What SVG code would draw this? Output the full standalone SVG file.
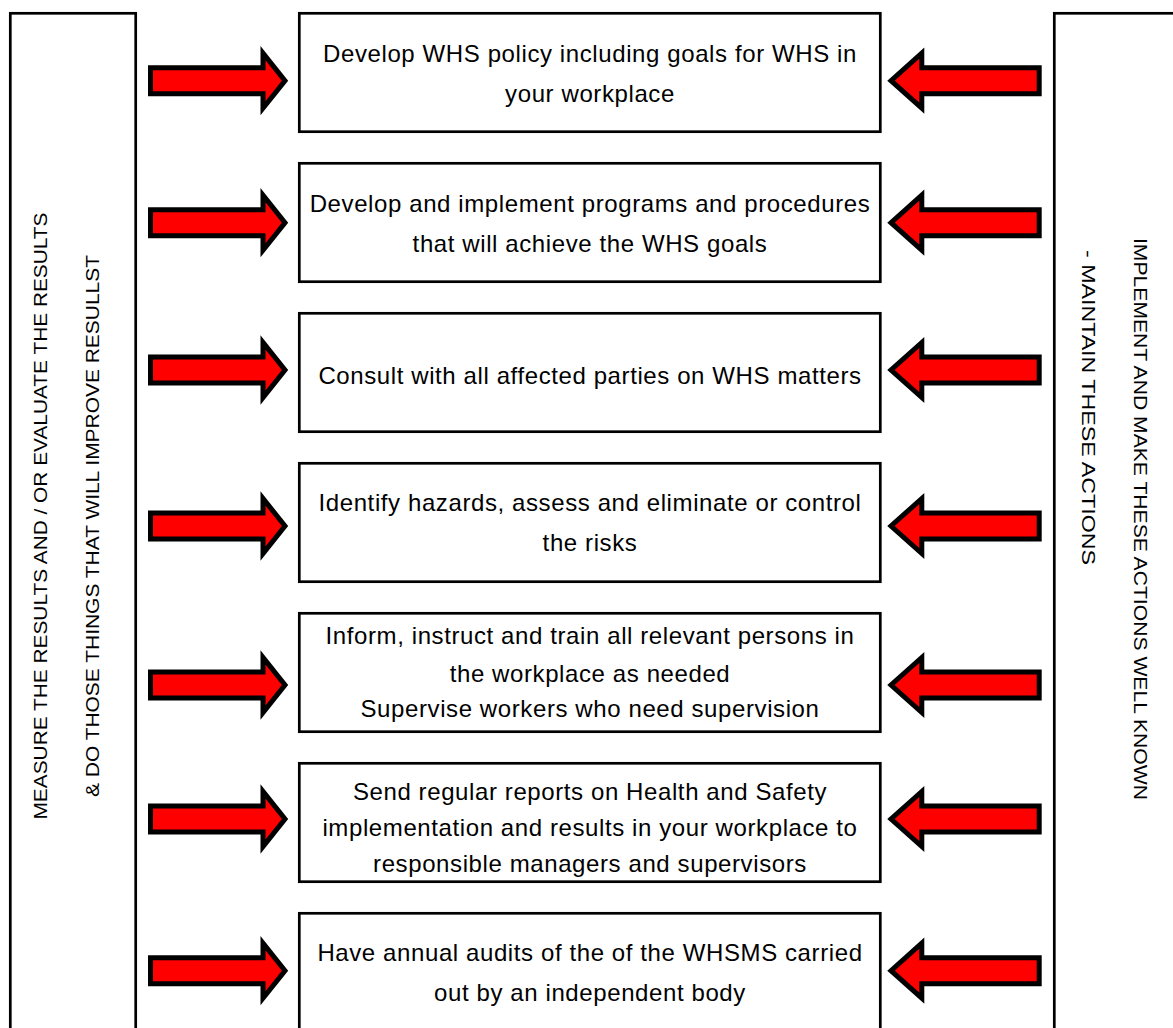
<svg xmlns="http://www.w3.org/2000/svg" width="1173" height="1028" viewBox="0 0 1173 1028">
<style>
.box{fill:#fff;stroke:#000;stroke-width:2.7}
.t{font-family:"Liberation Sans",Arial,sans-serif;font-size:24px;letter-spacing:0.6px;fill:#000;text-anchor:middle}
.s{font-family:"Liberation Sans",Arial,sans-serif;font-size:19px;fill:#000}
.arr{fill:#ff0000;stroke:#000;stroke-width:5;stroke-linejoin:miter;stroke-miterlimit:10}
</style>
<defs>
<path id="ra" class="arr" d="M150.5,-13 H263 V-27.5 L285,0 L263,27.5 V13 H150.5 Z"/>
<path id="la" class="arr" d="M1039.2,-13 H921.8 V-27.5 L891,0 L921.8,27.5 V13 H1039.2 Z"/>
</defs>
<rect width="1173" height="1028" fill="#fff"/>
<g id="left-panel">
<rect class="box" x="10.3" y="13.3" width="125.4" height="1030"/>
<text class="s" text-anchor="middle" transform="translate(47,516) rotate(-90)" textLength="607" lengthAdjust="spacingAndGlyphs">MEASURE THE RESULTS AND / OR EVALUATE THE RESULTS</text>
<text class="s" text-anchor="middle" transform="translate(99,526) rotate(-90)" textLength="542" lengthAdjust="spacingAndGlyphs">&amp; DO THOSE THINGS THAT WILL IMPROVE RESULLST</text>
</g>
<g id="right-panel">
<rect class="box" x="1054.3" y="13.3" width="140" height="1030"/>
<text class="s" text-anchor="start" transform="translate(1134,238) rotate(90)" textLength="562" lengthAdjust="spacingAndGlyphs">IMPLEMENT AND MAKE THESE ACTIONS WELL KNOWN</text>
<text class="s" text-anchor="start" transform="translate(1082,250) rotate(90)" textLength="315" lengthAdjust="spacingAndGlyphs">- MAINTAIN THESE ACTIONS</text>
</g>
<g id="node1">
<rect class="box" x="299.3" y="13.3" width="581" height="118.4"/>
<text class="t" x="590" y="62">Develop WHS policy including goals for WHS in</text>
<text class="t" x="590" y="102">your workplace</text>
</g>
<g id="node2">
<rect class="box" x="299.3" y="163.3" width="581" height="118.4"/>
<text class="t" x="590" y="212">Develop and implement programs and procedures</text>
<text class="t" x="590" y="252">that will achieve the WHS goals</text>
</g>
<g id="node3">
<rect class="box" x="299.3" y="313.3" width="581" height="118.4"/>
<text class="t" x="590" y="383.5">Consult with all affected parties on WHS matters</text>
</g>
<g id="node4">
<rect class="box" x="299.3" y="463.3" width="581" height="118.4"/>
<text class="t" x="590" y="511">Identify hazards, assess and eliminate or control</text>
<text class="t" x="590" y="551">the risks</text>
</g>
<g id="node5">
<rect class="box" x="299.3" y="613.3" width="581" height="118.4"/>
<text class="t" x="590" y="643.5">Inform, instruct and train all relevant persons in</text>
<text class="t" x="590" y="682">the workplace as needed</text>
<text class="t" x="590" y="717">Supervise workers who need supervision</text>
</g>
<g id="node6">
<rect class="box" x="299.3" y="763.3" width="581" height="118.4"/>
<text class="t" x="590" y="799.5">Send regular reports on Health and Safety</text>
<text class="t" x="590" y="835.5">implementation and results in your workplace to</text>
<text class="t" x="590" y="871.5">responsible managers and supervisors</text>
</g>
<g id="node7">
<rect class="box" x="299.3" y="913.3" width="581" height="130"/>
<text class="t" x="590" y="961">Have annual audits of the of the WHSMS carried</text>
<text class="t" x="590" y="1001">out by an independent body</text>
</g>
<g id="connectors">
<use href="#ra" transform="translate(0,80.7)"/>
<use href="#la" transform="translate(0,80.7)"/>
<use href="#ra" transform="translate(0,222.7)"/>
<use href="#la" transform="translate(0,222.7)"/>
<use href="#ra" transform="translate(0,370)"/>
<use href="#la" transform="translate(0,370)"/>
<use href="#ra" transform="translate(0,526)"/>
<use href="#la" transform="translate(0,526)"/>
<use href="#ra" transform="translate(0,685)"/>
<use href="#la" transform="translate(0,685)"/>
<use href="#ra" transform="translate(0,819)"/>
<use href="#la" transform="translate(0,819)"/>
<use href="#ra" transform="translate(0,970.7)"/>
<use href="#la" transform="translate(0,970.7)"/>
</g>
</svg>
